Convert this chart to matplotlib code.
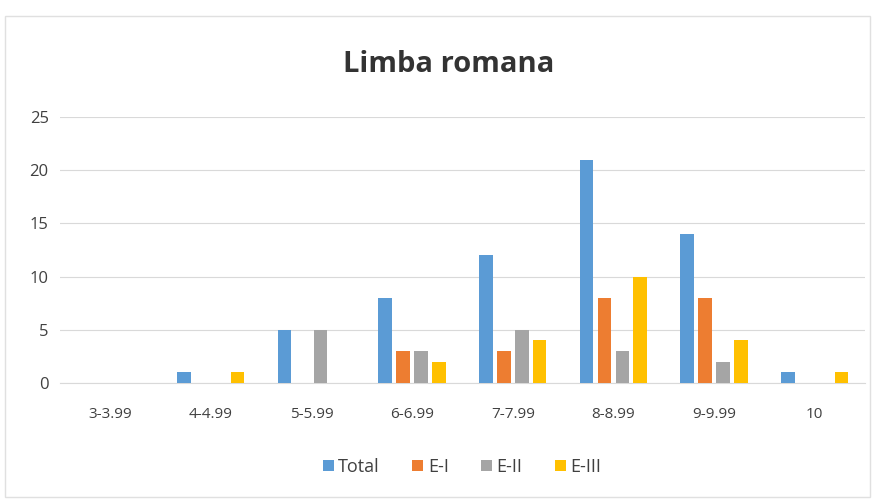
"""
Limba romana: distributia notelor pe intervale, bare grupate.
"""

import matplotlib

matplotlib.use("Agg")
import matplotlib.pyplot as plt
import numpy as np

categories = ["3-3.99", "4-4.99", "5-5.99", "6-6.99", "7-7.99", "8-8.99", "9-9.99", "10"]
total = [0, 1, 5, 8, 12, 21, 14, 1]
e_i = [0, 0, 0, 3, 3, 8, 8, 0]
e_ii = [0, 0, 5, 3, 5, 3, 2, 0]
e_iii = [0, 1, 0, 2, 4, 10, 4, 1]

series_names = ["Total", "E-I", "E-II", "E-III"]
colors = ["#5B9BD5", "#ED7D31", "#A5A5A5", "#FFC000"]


def main() -> None:
    plt.rcParams["font.family"] = ["Open Sans", "DejaVu Sans"]
    fig = plt.figure(figsize=(8.8, 5), dpi=100)
    ax = fig.add_axes([0.068, 0.234, 0.915, 0.532])

    x = np.arange(len(categories))
    width = 0.135
    step = 0.178
    for i, (vals, name, col) in enumerate(zip([total, e_i, e_ii, e_iii], series_names, colors)):
        ax.bar(x + (i - 1.5) * step, vals, width, color=col, label=name, zorder=3)

    ax.set_xlim(-0.5, len(categories) - 0.5)
    ax.set_ylim(0, 25)
    ax.set_yticks(range(0, 26, 5))
    ax.set_xticks(x)
    ax.set_xticklabels(categories)
    ax.tick_params(axis="x", length=0, labelsize=11, colors="#404040", pad=17)
    ax.tick_params(axis="y", length=0, labelsize=12, colors="#404040", pad=8)
    ax.grid(axis="y", color="#D9D9D9", linewidth=0.8, zorder=0)
    for side in ["top", "right", "left"]:
        ax.spines[side].set_visible(False)
    ax.spines["bottom"].set_color("#D9D9D9")

    fig.text(0.51, 0.872, "Limba romana", ha="center", va="center",
             fontsize=21, fontweight="bold", color="#333333")

    fig.legend(loc="center", bbox_to_anchor=(0.525, 0.066), ncol=4, frameon=False,
               fontsize=13, handlelength=0.6, handleheight=0.6, handletextpad=0.25,
               columnspacing=1.8, labelcolor="#404040")

    fig.patches.append(plt.Rectangle((0.006, 0.006), 0.983, 0.962, transform=fig.transFigure,
                                     fill=False, edgecolor="#E0E0E0", linewidth=1))

    fig.savefig("out.png", dpi=100)
    plt.close(fig)


if __name__ == "__main__":
    main()
